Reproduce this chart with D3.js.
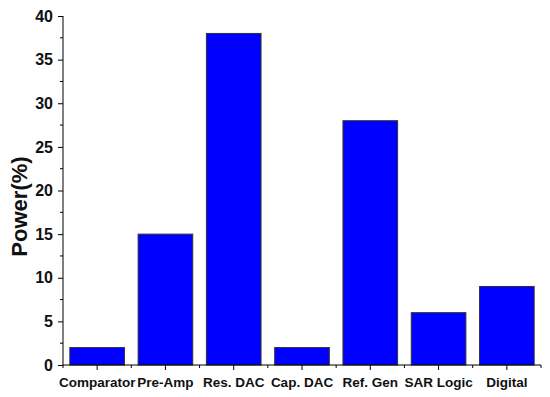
<!DOCTYPE html>
<html>
<head>
  <meta charset="utf-8" />
  <title>Power breakdown</title>
  <style>
    body { margin: 0; background: #fff; }
    text { font-family: Arial, "Liberation Sans", sans-serif; font-weight: bold; }
  </style>
  <script src="https://cdnjs.cloudflare.com/ajax/libs/d3/7.8.5/d3.min.js"></script>
</head>
<body>
  <div id="chart"></div>
  <script>
    var categories = ['Comparator', 'Pre-Amp', 'Res. DAC', 'Cap. DAC', 'Ref. Gen', 'SAR Logic', 'Digital'];
    var powerValues = [2, 15, 38, 2, 28, 6, 9];
    var yTicks = [0, 5, 10, 15, 20, 25, 30, 35, 40];

    var width = 550, height = 397;
    var margin = { top: 16, right: 9, bottom: 32, left: 63 };
    var w = width - margin.left - margin.right,
      h = height - margin.top - margin.bottom;

    var xScale = d3.scaleBand()
      .domain(categories)
      .range([0, w])
      .paddingInner(0.2)
      .paddingOuter(0.1);

    var yScale = d3.scaleLinear()
      .domain([0, 40])
      .range([h, 0]);

    var svg = d3.select('#chart').append('svg')
      .attr('width', width)
      .attr('height', height)
      .append('g')
      .attr('transform', 'translate(' + margin.left + ',' + margin.top + ')');

    // bars
    svg.selectAll('rect.bar')
      .data(powerValues)
      .enter()
      .append('rect')
      .attr('class', 'bar')
      .attr('x', (d, i) => xScale(categories[i]))
      .attr('y', d => yScale(d))
      .attr('width', xScale.bandwidth())
      .attr('height', d => h - yScale(d))
      .attr('fill', '#0000ff')
      .attr('stroke', '#333')
      .attr('stroke-width', 1);

    // y axis with minor ticks
    var yAxis = d3.axisLeft(yScale).tickValues(yTicks).tickSize(5).tickPadding(5);
    var gy = svg.append('g').call(yAxis);
    gy.selectAll('.tick text').attr('font-size', 16).attr('fill', '#111');
    gy.select('.domain').attr('d', 'M0,' + h + 'V0');
    gy.selectAll('line.minor')
      .data(yTicks.slice(0, -1).map(v => v + 2.5))
      .enter()
      .append('line')
      .attr('class', 'minor')
      .attr('x1', 0).attr('x2', -3)
      .attr('y1', d => yScale(d)).attr('y2', d => yScale(d))
      .attr('stroke', '#000');

    // x axis: ticks at band centres, short ones at band edges
    var step = xScale.step();
    var xAxis = d3.axisBottom(xScale).tickSize(5).tickPadding(7);
    var gx = svg.append('g').attr('transform', 'translate(0,' + h + ')').call(xAxis);
    gx.select('.domain').attr('d', 'M0,0H' + w);
    gx.selectAll('.tick text').attr('font-size', 13.5).attr('fill', '#111');
    gx.selectAll('line.minor')
      .data(d3.range(categories.length + 1))
      .enter()
      .append('line')
      .attr('class', 'minor')
      .attr('x1', i => i * step).attr('x2', i => i * step)
      .attr('y1', 0).attr('y2', 3)
      .attr('stroke', '#000');

    svg.selectAll('.domain').attr('stroke', '#000');

    // y label
    svg.append('text')
      .attr('transform', 'translate(' + (-36) + ',' + (h / 2 + 16) + ') rotate(-90)')
      .attr('text-anchor', 'middle')
      .attr('font-size', 22)
      .attr('fill', '#111')
      .text('Power(%)');
  </script>
</body>
</html>
